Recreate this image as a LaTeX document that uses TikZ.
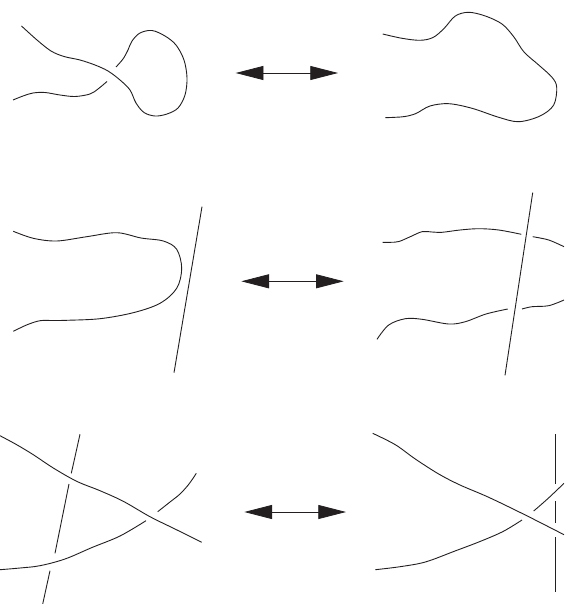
\documentclass[tikz,border=0pt]{standalone}
\usetikzlibrary{arrows.meta}
\definecolor{ink}{HTML}{231F20}
\tikzset{
  curve/.style={draw=ink,line width=0.9pt,smooth,tension=0.55},
  bar/.style={draw=ink,line width=0.9pt},
  both/.style={draw=ink,line width=0.8pt,{Triangle[length=27.7pt,width=14pt]}-{Triangle[length=27.7pt,width=14pt]}}
}
\begin{document}
\begin{tikzpicture}[x=1pt,y=-1pt]
\useasboundingbox (0,0) rectangle (564,604);
\clip (0,0) rectangle (564,604);
% arrows
\coordinate (a1l) at (235.7,73); \coordinate (a1r) at (338,73);
\coordinate (a2l) at (241.3,281.3); \coordinate (a2r) at (343.7,281.3);
\coordinate (a3l) at (244.3,512); \coordinate (a3r) at (346,512);
\draw[both] (a1l) -- (a1r);
\draw[both] (a2l) -- (a2r);
\draw[both] (a3l) -- (a3r);
% row 1 left
\draw[curve] plot coordinates {(21.5,26) (37,40) (51,51) (64,56.5) (80,60) (95,65) (108,71) (120,80) (130,90) (136,103) (144,112.5) (155,116) (167,114) (178,108) (185,95) (187,78) (184,60) (176,45) (165,36) (152,30.5) (140,33) (132,41) (128,50) (123,59) (116,67)};
\draw[curve] plot coordinates {(13,100) (23,96) (33,93) (45,92.5) (60,95) (75,96.5) (90,94) (98,89) (107,81.5)};
% row 1 right
\draw[curve] plot coordinates {(382.7,34) (402,38.3) (420,40.3) (433,37.5) (444,28.5) (455.3,16) (468.7,12.3) (485.3,16) (502,24) (513.7,36.7) (524,52) (538.7,65) (552,77.3) (556.7,87.3) (553.7,105) (540,116) (518.7,121.7) (498.7,117.3) (472,108.3) (448.7,103.7) (430,106) (416,113.5) (405,116.5) (395,117.3) (385.3,117.7)};
% row 2 left
\draw[curve] plot coordinates {(13.3,231.3) (33.3,238.3) (56.7,241) (86.7,236.7) (116.7,232.7) (141,238) (163.3,241) (176.7,249.3) (181.7,268.3) (176.7,288.3) (160,303.3) (133.3,312.7) (100,318.7) (66.7,320.3) (53,320.5) (40,320.7) (27,324.8) (13.3,331.3)};
\draw[bar] (202,206.7) -- (174,372.7);
% row 2 right
\draw[bar] (532.7,192.7) -- (505,375.3);
\draw[curve] plot coordinates {(382.7,242.3) (391,242.3) (399,241.5) (410.3,236.7) (422,231.7) (432,232) (442,232.3) (460,230) (478.7,228.7) (498.7,230) (521.3,234.3)};
\draw[curve] plot coordinates {(532.7,236.7) (548.7,240) (564,246.7)};
\draw[curve] plot coordinates {(522,309) (532,306.7) (548.7,305.7) (564,300)};
\draw[curve] plot coordinates {(377,339.3) (388.7,325) (405.3,318.7) (422,319.3) (448.7,324) (465.3,321.7) (486,314) (507.7,309)};
% row 3 left
\draw[curve] plot coordinates {(0,435.7) (16.7,444.7) (33.3,454.7) (53.3,468) (76.7,481.3) (100,490.7) (123.3,501.3) (150,516.7) (176,529.5) (201.7,542.3)};
\draw[curve] plot coordinates {(0,569.7) (20,568) (40,565.7) (65,559) (92,547.5) (120,536) (146,520.7)};
\draw[curve] plot coordinates {(157.7,511.7) (170,502) (180,494) (189,484) (196.3,473.3)};
\draw[bar] (80,434.3) -- (71.3,473.3);
\draw[bar] (69,484) -- (55,553.3);
\draw[bar] (50,570.7) -- (42.7,604);
% row 3 right
\draw[curve] plot coordinates {(372.7,433.3) (395.3,444.7) (415.3,459) (438.7,474) (460,485) (488.7,497.3) (525.3,515) (564,534.7)};
\draw[curve] plot coordinates {(375.3,569.7) (400,566.7) (425.3,562) (455,551) (480,541.5) (503,531.5) (522,520)};
\draw[curve] plot coordinates {(533.7,511) (548,498.5) (564,483.3)};
\draw[bar] (555,434) -- (555,484);
\draw[bar] (555,501.3) -- (555,522.7);
\draw[bar] (555,537.3) -- (555,592.3);
\end{tikzpicture}
\end{document}
